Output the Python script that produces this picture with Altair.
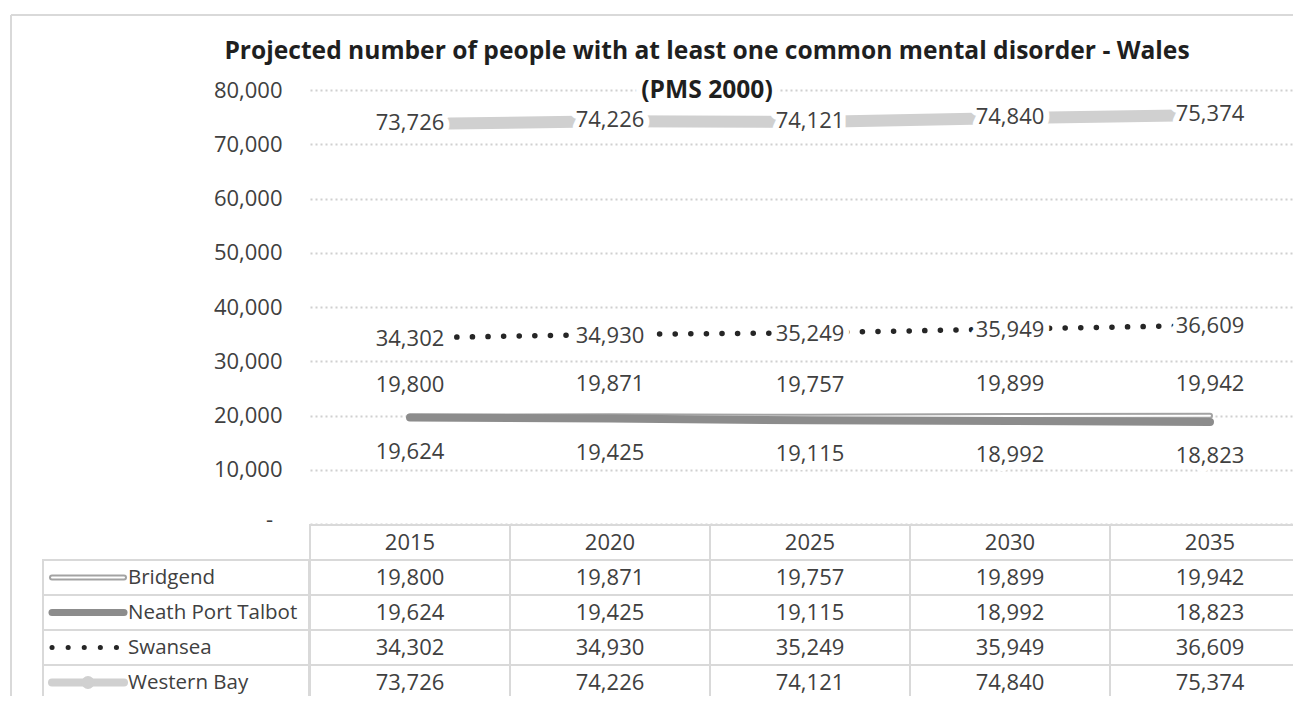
import altair as alt
import pandas as pd

# ---------------- data ----------------
title_lines = [
    "Projected number of people with at least one common mental disorder - Wales",
    "(PMS 2000)",
]
years = [2015, 2020, 2025, 2030, 2035]
series = ["Bridgend", "Neath Port Talbot", "Swansea", "Western Bay"]
bridgend = [19800, 19871, 19757, 19899, 19942]
neath_port_talbot = [19624, 19425, 19115, 18992, 18823]
swansea = [34302, 34930, 35249, 35949, 36609]
western_bay = [73726, 74226, 74121, 74840, 75374]
y_ticks = [0, 10000, 20000, 30000, 40000, 50000, 60000, 70000, 80000]

values = {
    "Bridgend": bridgend,
    "Neath Port Talbot": neath_port_talbot,
    "Swansea": swansea,
    "Western Bay": western_bay,
}

# ---------------- tables built from the arrays ----------------
half = (years[1] - years[0]) / 2
long = pd.DataFrame(
    [{"series": s, "row": s, "year": y, "value": v}
     for s in series for y, v in zip(years, values[s])]
)
long["x0"] = long["year"] - half
long["x1"] = long["year"] + half
header = pd.DataFrame({"row": "header", "year": years,
                       "label": [str(y) for y in years]})
header["x0"] = header["year"] - half
header["x1"] = header["year"] + half
rows = ["header"] + series
zero_tick = pd.DataFrame({"value": [y_ticks[0]], "label": ["-"]})

# ---------------- styling ----------------
FONT = "Open Sans"
FS = 22
TXT = "#404040"
GRID = "#d9d9d9"
W, H = 983, 434
FULL_W = 1000          # full width of the (clipped) plot area
ROW_H = 35
PAD_TOP, PAD_LEFT, PAD_BOTTOM = 82, 302, 172

x_start = years[0] - half
x_span = (years[-1] - years[0]) + 2 * half
x_scale = alt.Scale(domain=[x_start, x_start + x_span * W / FULL_W],
                    nice=False, zero=False)
y_scale = alt.Scale(domain=[0, 80000], nice=False, zero=False)
row_scale = alt.Scale(domain=rows, range=[H + 1, H + 1 + ROW_H * len(rows)],
                      paddingInner=0, paddingOuter=0)

X = alt.X("year:Q", scale=x_scale, axis=None)
Yv = alt.Y("value:Q", scale=y_scale, axis=None)
Yr = alt.Y("row:N", scale=row_scale, axis=None)
Yr_mid = alt.Y("row:N", scale=row_scale, axis=None, bandPosition=0.5)

y_axis = alt.Axis(
    values=y_ticks,
    labelExpr="datum.value == 0 ? '' : format(datum.value, ',')",
    grid=True, gridDash=[2, 3], gridColor="#d0d0d0", gridWidth=2,
    ticks=False, tickSize=0, domain=False, labelPadding=28,
    labelFont=FONT, labelFontSize=FS, labelColor=TXT, title=None,
)

def sdata(name):
    return long[long["series"] == name]

layers = []

# outer chart border (top and left edges; the rest is outside the window)
border = alt.Chart(pd.DataFrame({"a": [0]}))
layers.append(border.mark_rule(color=GRID, strokeWidth=2).encode(
    x=alt.value(-299), x2=alt.value(1100), y=alt.value(-75)))
layers.append(border.mark_rule(color=GRID, strokeWidth=2).encode(
    x=alt.value(-299), y=alt.value(-75), y2=alt.value(720)))

# Western Bay line (carries the y axis + grid)
layers.append(
    alt.Chart(sdata("Western Bay")).mark_line(
        color="#d0d0d0", strokeWidth=12, strokeCap="butt"
    ).encode(x=X, y=alt.Y("value:Q", scale=y_scale, axis=y_axis))
)
# zero tick label shown as a dash, set a little left like the Excel format
layers.append(
    alt.Chart(zero_tick).mark_text(font=FONT, fontSize=FS, color=TXT, align="left",
                                   dy=-4).encode(
        x=alt.value(-44), y=Yv, text="label:N")
)
# Swansea dotted
layers.append(
    alt.Chart(sdata("Swansea")).mark_line(
        color="#262626", strokeWidth=5.5, strokeDash=[0.1, 15.5], strokeCap="round"
    ).encode(x=X, y=Yv)
)
# Bridgend double line
layers.append(
    alt.Chart(sdata("Bridgend")).mark_line(
        color="#a3a3a3", strokeWidth=6, strokeCap="round"
    ).encode(x=X, y=Yv)
)
layers.append(
    alt.Chart(sdata("Bridgend")).mark_line(
        color="white", strokeWidth=2, strokeCap="round"
    ).encode(x=X, y=Yv)
)
# Neath Port Talbot
layers.append(
    alt.Chart(sdata("Neath Port Talbot")).mark_line(
        color="#8c8c8c", strokeWidth=8, strokeCap="round"
    ).encode(x=X, y=Yv)
)

# data labels with white halo
label_dy = {"Bridgend": -32, "Neath Port Talbot": 34, "Swansea": 1, "Western Bay": -1}
for s in series:
    base = alt.Chart(sdata(s)).encode(
        x=X, y=Yv, text=alt.Text("value:Q", format=",")
    )
    layers.append(base.mark_text(font=FONT, fontSize=FS, dy=label_dy[s],
                                 color="white", stroke="white", strokeWidth=12,
                                 strokeJoin="round"))
    layers.append(base.mark_text(font=FONT, fontSize=FS, dy=label_dy[s], color=TXT))

# title (two lines, second one over the top gridline)
title_y = [-38, 1]
for i, t in enumerate(title_lines):
    tb = alt.Chart(pd.DataFrame({"t": [t]})).encode(
        text="t:N", x=alt.value(397), y=alt.value(title_y[i])
    )
    if i == 1:
        layers.append(tb.mark_text(font=FONT, fontSize=24.6, fontWeight="bold",
                                   color="white", stroke="white", strokeWidth=12,
                                   strokeJoin="round"))
    layers.append(tb.mark_text(font=FONT, fontSize=24.6, fontWeight="bold",
                               color="#1f1f1f"))

# ---------------- data table ----------------
cell_style = dict(fill="white", stroke=GRID, strokeWidth=2)
layers.append(
    alt.Chart(header).mark_rect(**cell_style).encode(
        x=alt.X("x0:Q", scale=x_scale, axis=None), x2="x1:Q", y=Yr)
)
layers.append(
    alt.Chart(long).mark_rect(**cell_style).encode(
        x=alt.X("x0:Q", scale=x_scale, axis=None), x2="x1:Q", y=Yr)
)
legend_rows = pd.DataFrame({"row": series})
layers.append(
    alt.Chart(legend_rows).mark_rect(**cell_style).encode(
        x=alt.value(-267), x2=alt.value(-1), y=Yr)
)
layers.append(
    alt.Chart(header).mark_text(font=FONT, fontSize=FS, color=TXT).encode(
        x=X, y=Yr_mid, text="label:N")
)
layers.append(
    alt.Chart(long).mark_text(font=FONT, fontSize=FS, color=TXT).encode(
        x=X, y=Yr_mid, text=alt.Text("value:Q", format=","))
)
layers.append(
    alt.Chart(legend_rows).mark_text(font=FONT, fontSize=20.5, color=TXT,
                                     align="left").encode(
        x=alt.value(-182), y=Yr_mid, text="row:N")
)

# legend keys inside the table
def key(name):
    return alt.Chart(pd.DataFrame({"row": [name]}))

layers.append(key("Bridgend").mark_rule(color="#a3a3a3", strokeWidth=6, strokeCap="round")
              .encode(x=alt.value(-258), x2=alt.value(-186), y=Yr_mid))
layers.append(key("Bridgend").mark_rule(color="white", strokeWidth=2, strokeCap="round")
              .encode(x=alt.value(-258), x2=alt.value(-186), y=Yr_mid))
layers.append(key("Neath Port Talbot").mark_rule(color="#8c8c8c", strokeWidth=7, strokeCap="round")
              .encode(x=alt.value(-258), x2=alt.value(-186), y=Yr_mid))
layers.append(key("Swansea").mark_rule(color="#262626", strokeWidth=5, strokeDash=[0.1, 16],
                                       strokeCap="round")
              .encode(x=alt.value(-258), x2=alt.value(-188), y=Yr_mid))
layers.append(key("Western Bay").mark_rule(color="#d0d0d0", strokeWidth=8, strokeCap="round")
              .encode(x=alt.value(-258), x2=alt.value(-186), y=Yr_mid))
layers.append(key("Western Bay").mark_point(color="#d0d0d0", filled=True, shape="circle",
                                            size=170, opacity=1)
              .encode(x=alt.value(-222), y=Yr_mid))

chart = alt.layer(*layers).resolve_scale(y="independent").properties(
    width=W, height=H,
    autosize=alt.AutoSizeParams(type="none"),
    padding={"left": PAD_LEFT, "top": PAD_TOP, "right": 0, "bottom": PAD_BOTTOM},
    background="white",
).configure_view(stroke=None)

chart.save("out.html", embed_options={"renderer": "svg", "actions": False})
